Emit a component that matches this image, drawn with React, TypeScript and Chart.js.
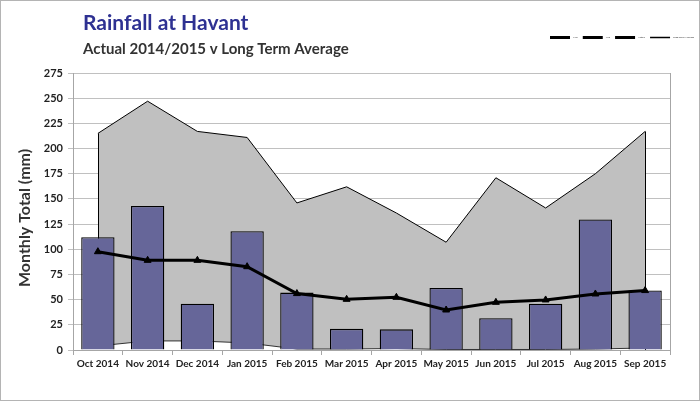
import React, { useEffect, useRef } from "react";
import { Chart, registerables } from "chart.js";

Chart.register(...registerables);

const categories = [
  "Oct 2014", "Nov 2014", "Dec 2014", "Jan 2015", "Feb 2015", "Mar 2015",
  "Apr 2015", "May 2015", "Jun 2015", "Jul 2015", "Aug 2015", "Sep 2015",
];
const maxValues = [215, 247, 217, 211, 146, 162, 136, 107, 171, 141, 175, 217];
const minValues = [4, 9, 9, 7, 1, 1, 1.5, 0.5, 0.5, 0.5, 1, 2];
const actualValues = [112, 143, 46, 118, 57, 21, 20.5, 61.5, 31.5, 46, 129.5, 59];
const averageValues = [97.6, 89, 89, 82.7, 56, 50.3, 52.3, 39.7, 47.3, 49.7, 55.6, 59];
const legendLabels = ["Max", "Min", "Actual", "Long Term Average"];
const yMin = 0;
const yMax = 275;
const yStep = 25;
const titleText = "Rainfall at Havant";
const subtitleText = "Actual 2014/2015 v Long Term Average";
const yAxisTitle = "Monthly Total (mm)";

const FONT = "Lato";

const decorPlugin = {
  id: "decor",
  afterDatasetDraw(chart: any, args: any) {
    if (args.index !== 0) return;
    const meta = chart.getDatasetMeta(0);
    const pts = meta.data;
    if (!pts.length) return;
    const bottom = chart.scales.y.getPixelForValue(0);
    const ctx = chart.ctx;
    ctx.save();
    ctx.strokeStyle = "#000";
    ctx.lineWidth = 1;
    ctx.beginPath();
    const f = pts[0];
    const l = pts[pts.length - 1];
    ctx.moveTo(Math.round(f.x) + 0.5, f.y);
    ctx.lineTo(Math.round(f.x) + 0.5, bottom);
    ctx.moveTo(Math.round(l.x) + 0.5, l.y);
    ctx.lineTo(Math.round(l.x) + 0.5, bottom);
    ctx.stroke();
    ctx.restore();
  },
  beforeDatasetsDraw(chart: any) {
    const { ctx, chartArea } = chart;
    ctx.save();
    ctx.strokeStyle = "#a6a6a6";
    ctx.lineWidth = 1;
    ctx.beginPath();
    ctx.moveTo(Math.round(chartArea.right) + 0.5, chartArea.top);
    ctx.lineTo(Math.round(chartArea.right) + 0.5, chartArea.bottom);
    ctx.stroke();
    ctx.restore();
  },
  afterDraw(chart: any) {
    const ctx = chart.ctx;
    ctx.save();
    ctx.textBaseline = "alphabetic";
    ctx.textAlign = "left";
    ctx.fillStyle = "#2e3192";
    ctx.font = `bold 21px ${FONT}`;
    ctx.fillText(titleText, 83, 30);
    ctx.fillStyle = "#333333";
    ctx.font = `bold 15px ${FONT}`;
    ctx.fillText(subtitleText, 83, 54);

    // y axis title
    ctx.save();
    ctx.translate(25, 218);
    ctx.rotate(-Math.PI / 2);
    ctx.textAlign = "center";
    ctx.textBaseline = "middle";
    ctx.font = `bold 16px ${FONT}`;
    ctx.fillStyle = "#333333";
    ctx.fillText(yAxisTitle, 0, 0);
    ctx.restore();

    // legend
    let x = 550;
    const y = 37.5;
    ctx.font = `2.5px ${FONT}`;
    ctx.textBaseline = "middle";
    legendLabels.forEach((lab, i) => {
      ctx.strokeStyle = "#000";
      ctx.lineWidth = i < 3 ? 3 : 1.5;
      ctx.beginPath();
      ctx.moveTo(x, y);
      ctx.lineTo(x + 20, y);
      ctx.stroke();
      ctx.fillStyle = "#333";
      ctx.fillText(lab, x + 23, y);
      x += 23 + ctx.measureText(lab).width + 5;
    });
    ctx.restore();
  },
};

export default function App() {
  const ref = useRef<HTMLCanvasElement | null>(null);
  useEffect(() => {
    if (!ref.current) return;
    const chart = new Chart(ref.current, {
      type: "bar",
      data: {
        labels: categories,
        datasets: [
          {
            type: "line",
            label: legendLabels[0],
            data: maxValues,
            borderColor: "#000",
            borderWidth: 1,
            backgroundColor: "#c0c0c0",
            fill: "origin",
            pointRadius: 0,
            tension: 0,
            order: 3,
          } as any,
          {
            type: "line",
            label: legendLabels[1],
            data: minValues,
            borderColor: "#333",
            borderWidth: 1,
            backgroundColor: "#ffffff",
            fill: "origin",
            pointRadius: 0,
            tension: 0,
            order: 2,
          } as any,
          {
            type: "bar",
            label: legendLabels[2],
            data: actualValues,
            backgroundColor: "#666699",
            borderColor: "#000",
            borderWidth: 1.3,
            barPercentage: 0.67,
            categoryPercentage: 1,
            order: 1,
          } as any,
          {
            type: "line",
            label: legendLabels[3],
            data: averageValues,
            borderColor: "#000",
            borderWidth: 3,
            backgroundColor: "#000",
            pointStyle: "triangle",
            pointRadius: 4,
            pointBackgroundColor: "#000",
            pointBorderColor: "#000",
            pointBorderWidth: 1,
            fill: false,
            tension: 0,
            order: 0,
          } as any,
        ],
      },
      options: {
        responsive: false,
        animation: false,
        layout: { padding: { left: 8, top: 73, right: 30, bottom: 0 } },
        plugins: {
          legend: { display: false },
          title: { display: false },
          tooltip: { enabled: false },
        },
        scales: {
          x: {
            offset: true,
            grid: {
              offset: true,
              drawOnChartArea: false,
              drawTicks: true,
              tickLength: 5,
              color: "#a6a6a6",
            },
            border: { color: "#a6a6a6" },
            ticks: {
              font: { family: FONT, size: 10, weight: "bold" },
              color: "#222",
              padding: 3,
              maxRotation: 0,
              autoSkip: false,
            },
            afterFit(scale: any) {
              scale.height = 401 - 350;
            },
          },
          y: {
            min: yMin,
            max: yMax,
            grid: { color: "#c0c0c0", tickLength: 5, drawTicks: true },
            border: { color: "#a6a6a6" },
            ticks: {
              stepSize: yStep,
              font: { family: FONT, size: 11, weight: "bold" },
              color: "#222",
              padding: 5,
            },
            afterFit(scale: any) {
              scale.width = 65;
            },
          },
        },
      } as any,
      plugins: [decorPlugin],
    });
    return () => chart.destroy();
  }, []);

  return (
    <div style={{ position: "fixed", left: 0, top: 0, width: 700, height: 401, background: "#fff" }}>
      <canvas ref={ref} width={700} height={401} style={{ position: "absolute", left: 0, top: 0 }} />
      <div
        style={{
          position: "absolute",
          left: 0,
          top: 0,
          width: 700,
          height: 401,
          boxSizing: "border-box",
          border: "1px solid #b4b4b4",
          pointerEvents: "none",
        }}
      />
    </div>
  );
}
